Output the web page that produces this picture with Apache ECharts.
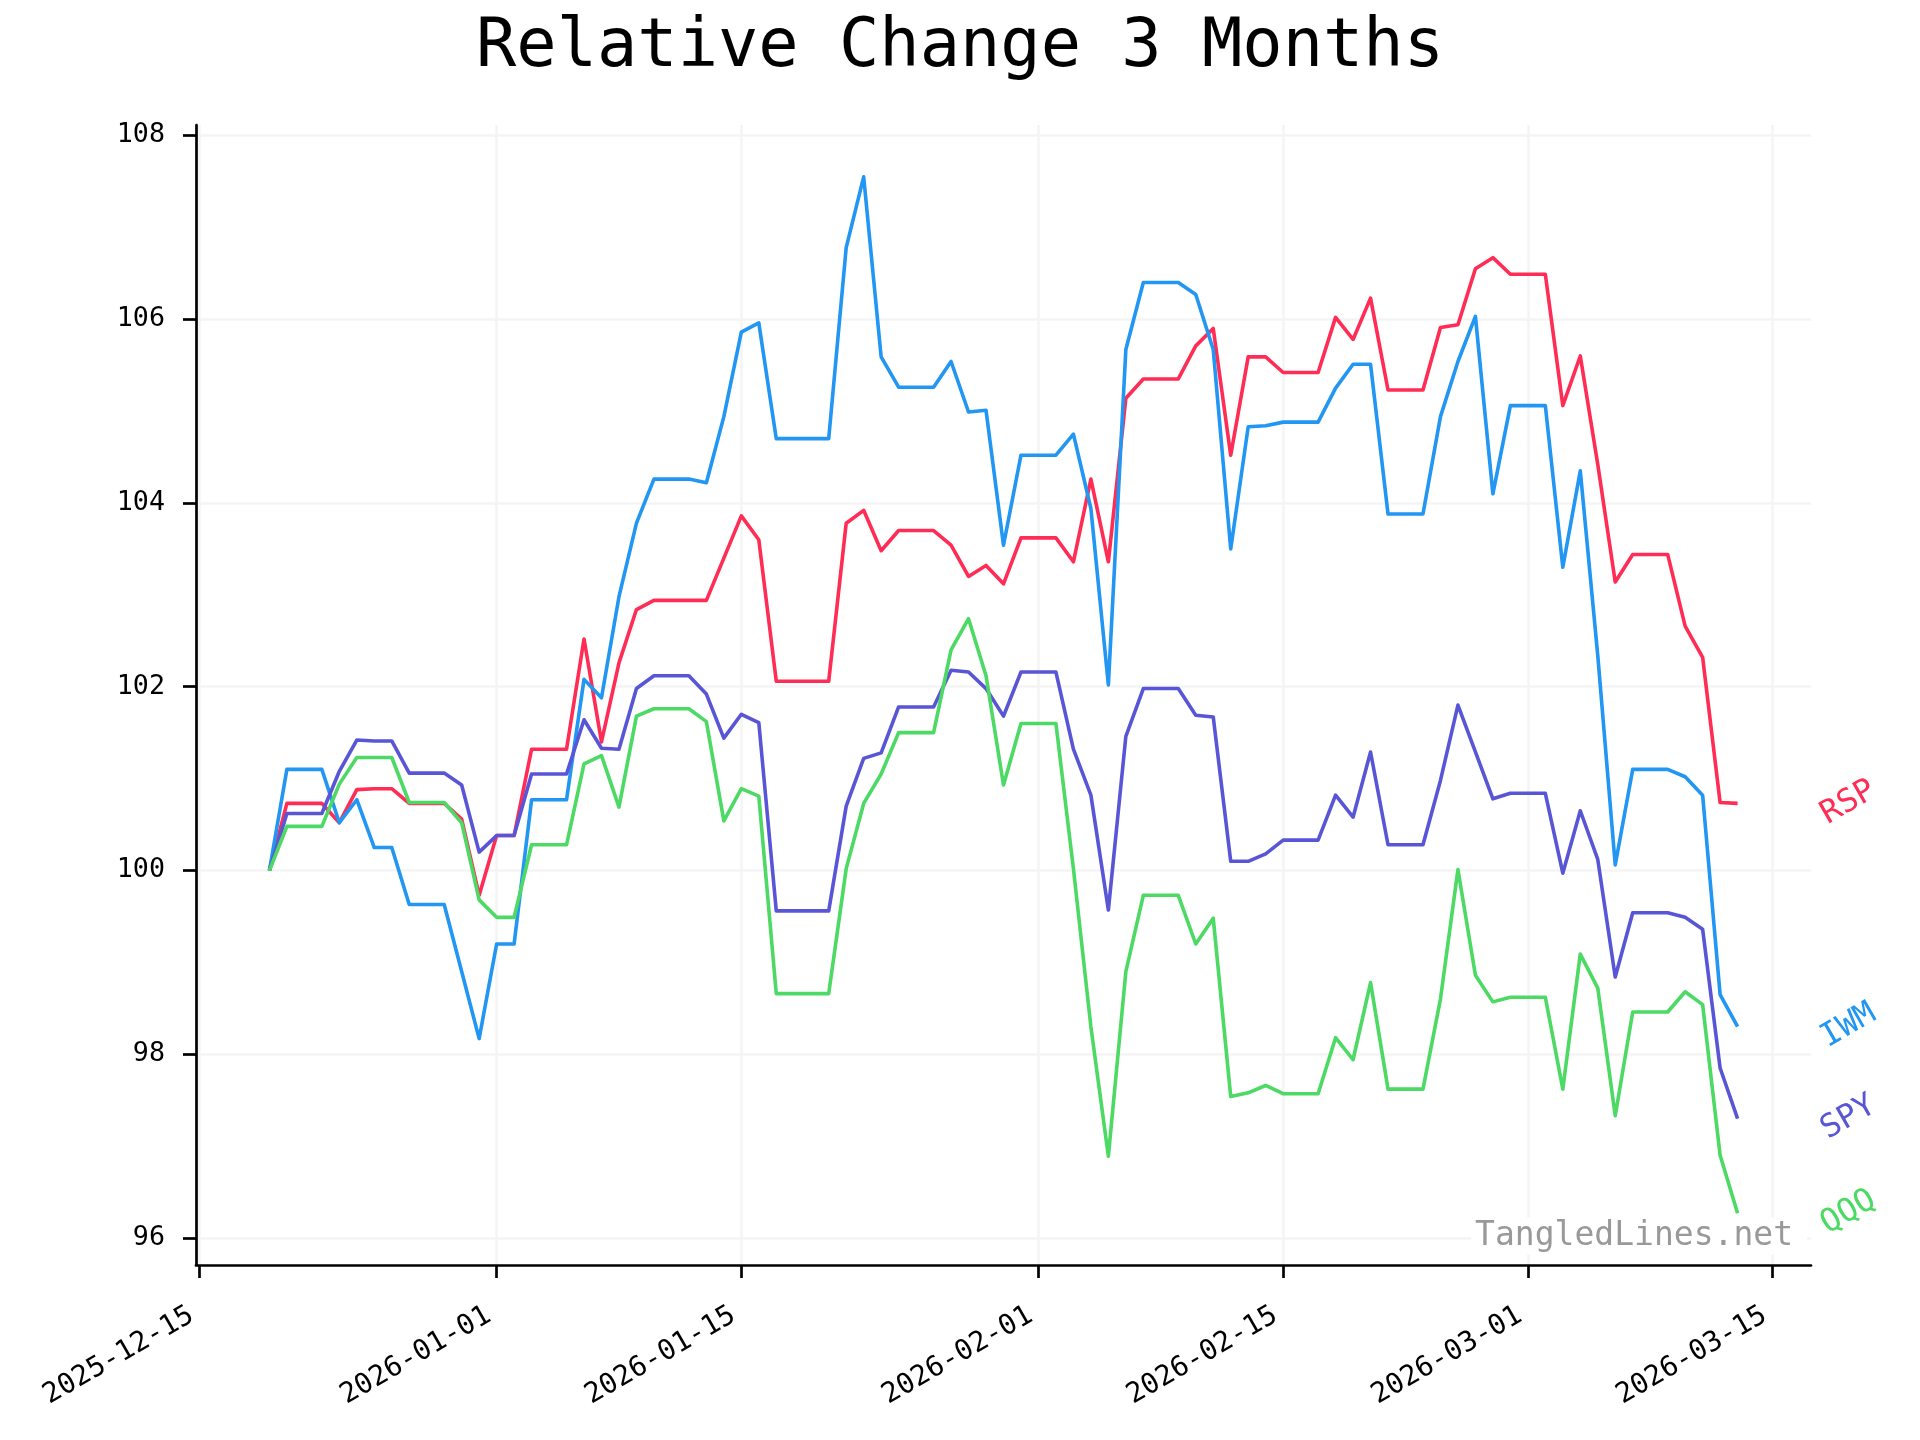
<!DOCTYPE html>
<html>
<head>
<meta charset="utf-8">
<script src="https://cdn.jsdelivr.net/npm/echarts@6/dist/echarts.min.js"></script>
<style>
html,body{margin:0;padding:0;background:#fff;}
#chart{width:1920px;height:1440px;}
</style>
</head>
<body>
<div id="chart"></div>
<script>
// ---- data ----
const titleText = 'Relative Change 3 Months';
const watermarkText = 'TangledLines.net';
const firstDay = [2025, 11, 19];          // 2025-12-19, daily values (weekends carried)
const dayCount = 85;                       // through 2026-03-13
const xTickDates = ['2025-12-15','2026-01-01','2026-01-15','2026-02-01','2026-02-15','2026-03-01','2026-03-15'];
const yTicks = [96, 98, 100, 102, 104, 106, 108];
const seriesNames = ['RSP', 'IWM', 'SPY', 'QQQ'];

const RSP = [100.00,100.73,100.73,100.73,100.52,100.88,100.89,100.89,100.73,100.73,100.73,100.56,99.73,100.38,100.38,
  101.32,101.32,101.32,102.52,101.40,102.26,102.84,102.94,102.94,102.94,102.94,103.40,103.86,103.60,102.06,102.06,102.06,102.06,
  103.78,103.92,103.48,103.70,103.70,103.70,103.54,103.20,103.32,103.12,103.62,103.62,103.62,103.36,104.26,103.36,
  105.14,105.35,105.35,105.35,105.71,105.90,104.52,105.59,105.59,105.42,105.42,105.42,106.02,105.78,106.23,105.23,105.23,105.23,
  105.91,105.94,106.55,106.67,106.49,106.49,106.49,105.06,105.60,104.42,103.14,103.44,103.44,103.44,102.66,102.32,100.74,100.73];

const IWM = [100.00,101.10,101.10,101.10,100.52,100.77,100.25,100.25,99.63,99.63,99.63,98.90,98.17,99.20,99.20,
  100.77,100.77,100.77,102.08,101.88,102.98,103.78,104.26,104.26,104.26,104.22,104.94,105.86,105.96,104.70,104.70,104.70,104.70,
  106.78,107.55,105.59,105.26,105.26,105.26,105.54,104.99,105.01,103.54,104.52,104.52,104.52,104.75,103.94,102.02,
  105.67,106.40,106.40,106.40,106.27,105.67,103.50,104.83,104.84,104.88,104.88,104.88,105.25,105.51,105.51,103.88,103.88,103.88,
  104.94,105.54,106.03,104.10,105.06,105.06,105.06,103.30,104.35,102.34,100.06,101.10,101.10,101.10,101.02,100.82,98.65,98.30];

const SPY = [100.00,100.62,100.62,100.62,101.08,101.42,101.41,101.41,101.06,101.06,101.06,100.93,100.20,100.38,100.38,
  101.05,101.05,101.05,101.64,101.33,101.32,101.98,102.12,102.12,102.12,101.92,101.44,101.70,101.61,99.56,99.56,99.56,99.56,
  100.70,101.22,101.28,101.78,101.78,101.78,102.18,102.16,101.98,101.68,102.16,102.16,102.16,101.32,100.82,99.57,
  101.46,101.98,101.98,101.98,101.69,101.67,100.10,100.10,100.18,100.33,100.33,100.33,100.82,100.58,101.29,100.28,100.28,100.28,
  100.98,101.80,101.29,100.78,100.84,100.84,100.84,99.97,100.65,100.12,98.84,99.54,99.54,99.54,99.49,99.36,97.85,97.30];

const QQQ = [100.00,100.48,100.48,100.48,100.94,101.23,101.23,101.23,100.74,100.74,100.74,100.52,99.68,99.49,99.49,
  100.28,100.28,100.28,101.16,101.25,100.69,101.68,101.76,101.76,101.76,101.62,100.54,100.89,100.81,98.66,98.66,98.66,98.66,
  100.02,100.73,101.05,101.50,101.50,101.50,102.40,102.74,102.12,100.93,101.60,101.60,101.60,100.02,98.30,96.89,
  98.90,99.73,99.73,99.73,99.20,99.48,97.54,97.58,97.66,97.57,97.57,97.57,98.18,97.94,98.78,97.62,97.62,97.62,
  98.60,100.01,98.86,98.57,98.62,98.62,98.62,97.62,99.09,98.72,97.33,98.46,98.46,98.46,98.68,98.54,96.90,96.27];

const seriesValues = [RSP, IWM, SPY, QQQ];
const seriesColors = ['#ff2d55', '#2196f3', '#5856d6', '#4cd964'];

// ---- build ----
const FONT = '"DejaVu Sans Mono", "Liberation Mono", monospace';
const dates = [];
for (let i = 0; i < dayCount; i++) dates.push(Date.UTC(firstDay[0], firstDay[1], firstDay[2] + i));
const parseDay = s => { const p = s.split('-').map(Number); return Date.UTC(p[0], p[1] - 1, p[2]); };
const xTicks = xTickDates.map(parseDay);
const tFirst = dates[0], tLast = dates[dates.length - 1];
const xMin = tFirst - 0.05 * (tLast - tFirst);
const xMax = tLast + 0.05 * (tLast - tFirst);

const series = seriesNames.map((name, k) => {
  const vals = seriesValues[k];
  return {
    name: name,
    type: 'line',
    showSymbol: false,
    symbol: 'none',
    animation: false,
    z: 3 + k,
    lineStyle: { color: seriesColors[k], width: 3.6, join: 'round' },
    itemStyle: { color: seriesColors[k] },
    data: dates.map((t, i) => [t, vals[i]]),
    markPoint: {
      symbol: 'circle',
      symbolSize: 1,
      itemStyle: { color: 'rgba(0,0,0,0)' },
      animation: false,
      silent: true,
      data: [{
        coord: [xMax, vals[vals.length - 1]],
        label: {
          show: true,
          position: 'inside',
          formatter: name,
          color: seriesColors[k],
          fontFamily: FONT,
          fontSize: 32,
          rotate: 30,
          align: 'center',
          verticalAlign: 'middle',
          offset: [33, 18]
        }
      }]
    }
  };
});

const chart = echarts.init(document.getElementById('chart'), null, { renderer: 'canvas' });
chart.setOption({
  animation: false,
  backgroundColor: '#ffffff',
  title: {
    text: titleText,
    left: 'center',
    top: 10,
    textStyle: { fontFamily: FONT, fontSize: 67, fontWeight: 'normal', color: '#000' }
  },
  grid: { left: 196, right: 109, top: 125, bottom: 175, containLabel: false },
  xAxis: {
    type: 'value',
    min: xMin,
    max: xMax,
    axisLine: { show: true, lineStyle: { color: '#000', width: 2.7 } },
    axisTick: { show: true, length: 13, lineStyle: { color: '#000', width: 2.7 }, customValues: xTicks },
    axisLabel: {
      customValues: xTicks,
      rotate: 30,
      margin: 44,
      padding: [0, 9, 0, 0],
      fontFamily: FONT,
      fontSize: 28,
      color: '#000',
      hideOverlap: false,
      formatter: v => new Date(v).toISOString().slice(0, 10)
    },
    splitLine: { show: true, lineStyle: { color: '#f4f4f4', width: 2.5 } }
  },
  yAxis: {
    type: 'value',
    min: v => v.min - 0.05 * (v.max - v.min),
    max: v => v.max + 0.05 * (v.max - v.min),
    axisLine: { show: true, lineStyle: { color: '#000', width: 2.7 } },
    axisTick: { show: true, length: 13, lineStyle: { color: '#000', width: 2.7 }, customValues: yTicks },
    axisLabel: {
      customValues: yTicks,
      margin: 31,
      fontFamily: FONT,
      fontSize: 26.7,
      color: '#000',
      formatter: v => String(v)
    },
    splitLine: { show: true, lineStyle: { color: '#f4f4f4', width: 2.5 } }
  },
  graphic: [{
    type: 'text',
    x: 1807,
    y: 1236,
    z: 1,
    silent: true,
    style: {
      text: watermarkText,
      font: '33px ' + FONT,
      fill: '#999999',
      align: 'right',
      verticalAlign: 'middle',
      backgroundColor: '#ffffff',
      padding: [2, 14, 2, 4]
    }
  }],
  series: series
});
</script>
</body>
</html>
